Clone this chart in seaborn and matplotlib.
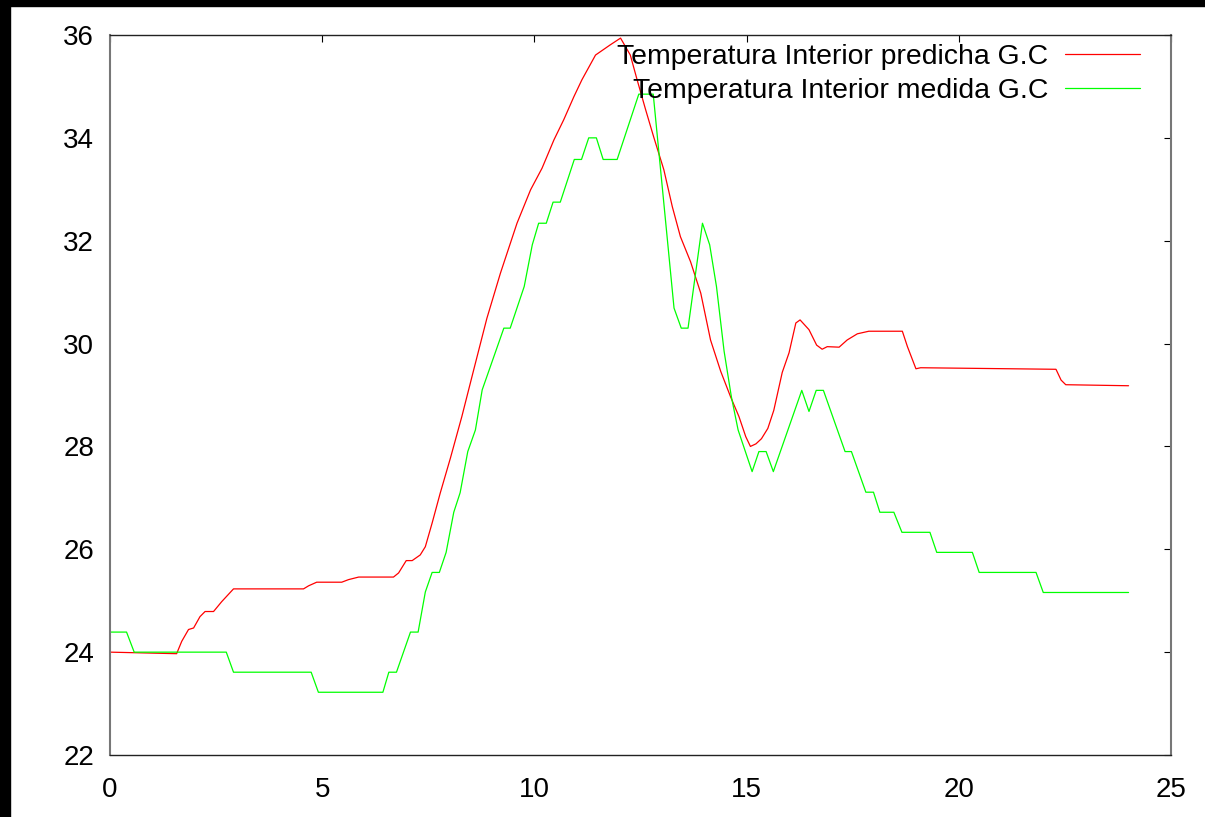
import matplotlib
matplotlib.use("Agg")
import matplotlib.pyplot as plt
import matplotlib.patches as mpatches
import seaborn as sns
import pandas as pd

# ---- data ----
hours_pred = [0.0, 1.57, 1.69, 1.85, 1.97, 2.12, 2.24, 2.44, 2.63, 2.91,
              4.56, 4.68, 4.87, 5.46, 5.62, 5.86, 6.68, 6.80, 6.98, 7.12,
              7.31, 7.43, 7.59, 7.78, 8.02, 8.29, 8.57, 8.88, 9.20, 9.59,
              9.91, 10.18, 10.46, 10.69, 10.93, 11.12, 11.44, 11.79, 12.03, 12.26,
              12.42, 12.62, 12.81, 13.05, 13.25, 13.44, 13.68, 13.92, 14.15, 14.39,
              14.62, 14.82, 14.98, 15.09, 15.22, 15.35, 15.50, 15.64, 15.84, 16.00,
              16.16, 16.26, 16.47, 16.65, 16.78, 16.90, 17.18, 17.37, 17.61, 17.88,
              18.67, 18.79, 18.99, 19.10, 22.29, 22.41, 22.52, 24.00]
temp_pred = [24.00, 23.97, 24.21, 24.44, 24.47, 24.69, 24.79, 24.79, 24.98, 25.23,
             25.23, 25.29, 25.36, 25.36, 25.41, 25.46, 25.46, 25.54, 25.78, 25.78,
             25.89, 26.05, 26.51, 27.09, 27.77, 28.58, 29.49, 30.49, 31.37, 32.34,
             32.99, 33.41, 33.96, 34.35, 34.80, 35.13, 35.61, 35.81, 35.94, 35.61,
             35.13, 34.55, 34.02, 33.38, 32.66, 32.08, 31.59, 30.98, 30.07, 29.46,
             28.97, 28.58, 28.19, 28.00, 28.05, 28.15, 28.35, 28.70, 29.44, 29.82,
             30.40, 30.46, 30.27, 29.97, 29.89, 29.94, 29.93, 30.07, 30.19, 30.24,
             30.24, 29.94, 29.51, 29.53, 29.50, 29.29, 29.20, 29.18]

hours_meas = [0.0, 0.39, 0.57, 2.74, 2.91, 4.74, 4.91, 6.43, 6.57, 6.75,
              7.08, 7.26, 7.43, 7.59, 7.76, 7.92, 8.10, 8.25, 8.43, 8.61,
              8.77, 9.28, 9.43, 9.76, 9.95, 10.10, 10.28, 10.44, 10.61, 10.94,
              11.11, 11.28, 11.46, 11.62, 11.95, 12.46, 12.80, 13.29, 13.46, 13.62,
              13.96, 14.13, 14.29, 14.47, 14.64, 14.80, 15.13, 15.29, 15.46, 15.63,
              16.30, 16.47, 16.64, 16.81, 17.32, 17.47, 17.81, 17.99, 18.14, 18.47,
              18.66, 19.32, 19.48, 20.32, 20.48, 21.82, 21.99, 24.00]
temp_meas = [24.39, 24.39, 24.00, 24.00, 23.61, 23.61, 23.22, 23.22, 23.61, 23.61,
             24.39, 24.39, 25.17, 25.55, 25.55, 25.94, 26.72, 27.10, 27.90, 28.32,
             29.10, 30.30, 30.30, 31.11, 31.92, 32.34, 32.34, 32.75, 32.75, 33.58,
             33.58, 34.00, 34.00, 33.58, 33.58, 34.85, 34.85, 30.69, 30.30, 30.30,
             32.34, 31.92, 31.11, 29.85, 28.97, 28.32, 27.51, 27.90, 27.90, 27.51,
             29.09, 28.68, 29.09, 29.09, 27.90, 27.90, 27.11, 27.11, 26.72, 26.72,
             26.33, 26.33, 25.94, 25.94, 25.55, 25.55, 25.16, 25.16]

label_pred = "Temperatura Interior predicha G.C"
label_meas = "Temperatura Interior medida G.C"
x_ticks = [0, 5, 10, 15, 20, 25]
y_ticks = [22, 24, 26, 28, 30, 32, 34, 36]

# ---- style ----
sns.set_style("white")
plt.rcParams["font.family"] = ["Liberation Sans", "DejaVu Sans"]
plt.rcParams["text.color"] = "black"

fig = plt.figure(figsize=(12.05, 8.17), dpi=100)
ax = fig.add_axes([110 / 1205, 1 - 755 / 817, (1171 - 110) / 1205, (755 - 35) / 817])

df_pred = pd.DataFrame({"h": hours_pred, "t": temp_pred})
df_meas = pd.DataFrame({"h": hours_meas, "t": temp_meas})
sns.lineplot(data=df_pred, x="h", y="t", ax=ax, color="#ff0000", lw=0.9,
             label=label_pred, sort=False, estimator=None)
sns.lineplot(data=df_meas, x="h", y="t", ax=ax, color="#00ff00", lw=0.9,
             label=label_meas, sort=False, estimator=None)

ax.set_xlim(0, 25)
ax.set_ylim(22, 36)
ax.set_xticks(x_ticks)
ax.set_yticks(y_ticks)
ax.set_xlabel("")
ax.set_ylabel("")
ax.tick_params(direction="in", length=5, width=0.8, colors="black",
               top=True, right=True, labelsize=20)
ax.tick_params(axis="x", pad=16)
ax.tick_params(axis="y", pad=11.5)
for side in ["top", "bottom"]:
    ax.spines[side].set_color("#222222")
    ax.spines[side].set_linewidth(1.0)
for side in ["left", "right"]:
    ax.spines[side].set_color("#777777")
    ax.spines[side].set_linewidth(1.5)

leg = ax.legend(loc="upper right", bbox_to_anchor=(0.9708, 0.987),
                markerfirst=False, frameon=False, fontsize=20.4,
                handlelength=2.65, handletextpad=0.6, labelspacing=0.27,
                borderpad=0, borderaxespad=0)
for t in leg.get_texts():
    t.set_color("black")

# black frame strips seen on the top and left of the reference image
fig.patches.append(mpatches.Rectangle((0, 1 - 6 / 817), 1, 6 / 817,
                                      transform=fig.transFigure, color="black", zorder=10))
fig.patches.append(mpatches.Rectangle((0, 0), 10 / 1205, 1,
                                      transform=fig.transFigure, color="black", zorder=10))

fig.savefig("out.png", dpi=100)
